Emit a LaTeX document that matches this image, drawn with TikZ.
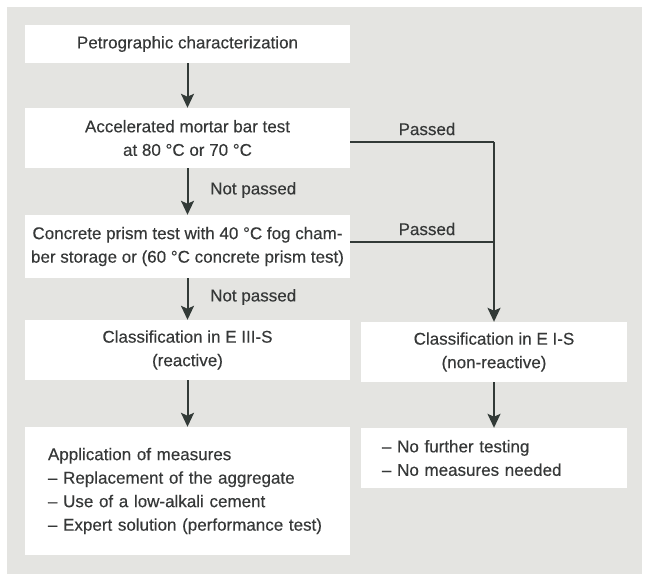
\documentclass[tikz,border=0pt]{standalone}
\usepackage{fontspec}
\setmainfont{Liberation Sans}[FakeBold=0.3]
\usetikzlibrary{arrows.meta}
\definecolor{bg}{HTML}{E4E4E1}
\definecolor{ink}{HTML}{323A37}
\definecolor{txt}{HTML}{363838}
\begin{document}
\begin{tikzpicture}[x=1pt,y=-1pt,
  every node/.style={font=\fontsize{17}{23.5}\selectfont, text=txt},
  box/.style={fill=white, inner sep=0pt, align=center},
  arr/.style={draw=ink, line width=2pt, -{Stealth[length=14pt,width=13pt,inset=3pt]}},
  ln/.style={draw=ink, line width=2pt},
  lbl/.style={inner sep=0pt, anchor=west}]
\useasboundingbox (0,0) rectangle (648,577);
\fill[bg] (7,7) rectangle (642,574);
\node[box, minimum width=325pt, minimum height=38pt] (petro) at (187.5,44) {Petrographic characterization};
\node[box, minimum width=325pt, minimum height=60pt] (accel) at (187.5,138) {Accelerated mortar bar test\\at 80 °C or 70 °C};
\node[box, minimum width=325pt, minimum height=63pt] (conc) at (187.5,246.5) {Concrete prism test with 40 °C fog cham-\\ber storage or (60 °C concrete prism test)};
\node[box, minimum width=325pt, minimum height=60pt] (e3) at (187.5,350) {Classification in E III-S\\(reactive)};
\node[box, align=left, inner xsep=23pt, text width=279pt, minimum height=128pt] (app) at (187.5,491) {Application of measures\\– Replacement of the aggregate\\– Use of a low-alkali cement\\– Expert solution (performance test)};
\node[box, minimum width=266pt, minimum height=60pt] (e1) at (494,352) {Classification in E I-S\\(non-reactive)};
\node[box, align=left, inner xsep=21pt, text width=224pt, minimum height=60pt] (nof) at (494,458) {– No further testing\\– No measures needed};
\coordinate (j1) at (494,142);
\coordinate (j2) at (494,242);
\draw[arr] (petro) -- (accel);
\draw[arr] (accel) -- (conc);
\draw[arr] (conc) -- (e3);
\draw[arr] (e3) -- (app);
\draw[arr] (e1) -- (nof);
\draw[ln] (accel.east |- j1) -- (j1);
\draw[ln] (conc.east |- j2) -- (j2);
\draw[arr] (j1) -- (e1.north);
\node[lbl] (np1) at (210,190) {Not passed};
\node[lbl] (np2) at (210,297) {Not passed};
\node[inner sep=0pt] (p1) at (427,129) {Passed};
\node[inner sep=0pt] (p2) at (427,229) {Passed};
\end{tikzpicture}
\end{document}
